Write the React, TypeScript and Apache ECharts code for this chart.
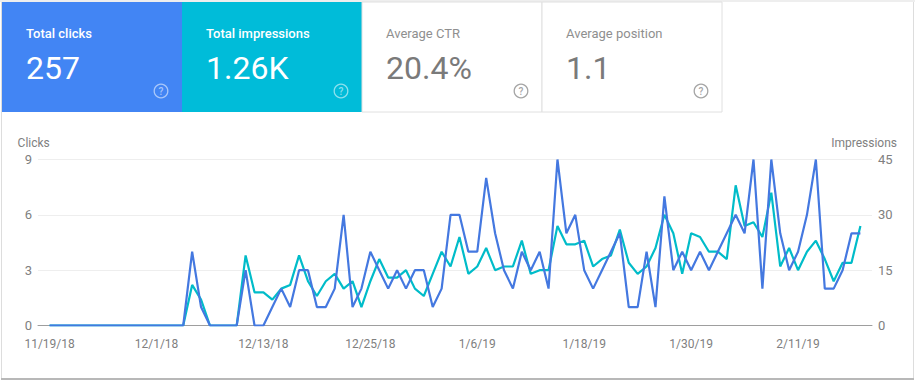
import React, { useEffect, useRef } from "react";
import * as echarts from "echarts";

const tickLabels = ["11/19/18", "12/1/18", "12/13/18", "12/25/18", "1/6/19", "1/18/19", "1/30/19", "2/11/19"];
const tickIndexes = [0, 12, 24, 36, 48, 60, 72, 84];
const clicks = [
  0, 0, 0, 0, 0, 0, 0, 0, 0, 0, 0, 0, 0, 0, 0, 0, 4, 1, 0, 0, 0, 0, 3, 0, 0, 1, 2, 1, 3, 3, 1, 1, 2, 6, 1, 2,
  4, 3, 2, 3, 2, 3, 3, 1, 2, 6, 6, 4, 4, 8, 5, 3, 2, 4, 3, 4, 2, 9, 5, 6, 3, 2, 3, 4, 5, 1, 1, 4, 1, 7, 3, 4,
  3, 4, 3, 4, 5, 6, 5, 9, 2, 9, 5, 3, 4, 6, 9, 2, 2, 3, 5, 5,
];
const impressions = [
  0, 0, 0, 0, 0, 0, 0, 0, 0, 0, 0, 0, 0, 0, 0, 0, 11, 7, 0, 0, 0, 0, 19, 9, 9, 7, 10, 11, 19, 12, 8, 12, 14, 10, 12, 5,
  12, 18, 13, 13, 15, 10, 8, 14, 20, 16, 24, 14, 16, 21, 15, 16, 16, 23, 14, 15, 15, 27, 22, 22, 23, 16, 18, 19, 26, 17, 14, 16,
  21, 30, 25, 14, 25, 24, 20, 20, 18, 38, 27, 28, 24, 36, 16, 21, 15, 20, 23, 18, 12, 17, 17, 27,
];
const cards = [
  { title: "Total clicks", value: "257", bg: "#4285f4", fg: "#ffffff", titleFg: "#ffffff", help: "rgba(255,255,255,0.55)" },
  { title: "Total impressions", value: "1.26K", bg: "#00bcd9", fg: "#ffffff", titleFg: "#ffffff", help: "rgba(255,255,255,0.55)" },
  { title: "Average CTR", value: "20.4%", bg: "#ffffff", fg: "#7a7a7a", titleFg: "#8f8f8f", help: "#a5a5a5" },
  { title: "Average position", value: "1.1", bg: "#ffffff", fg: "#7a7a7a", titleFg: "#8f8f8f", help: "#a5a5a5" },
];

const FONT = "Roboto";
const CARD_W = 180;

function cardGraphics() {
  const out: any[] = [
    { type: "rect", silent: true, z: -10, shape: { x: 0, y: 0, width: 915, height: 2 }, style: { fill: "#eeeeee" } },
    { type: "rect", silent: true, z: -10, shape: { x: 1, y: 2, width: 1, height: 376 }, style: { fill: "#dddddd" } },
    { type: "rect", silent: true, z: -10, shape: { x: 913, y: 2, width: 1, height: 376 }, style: { fill: "#dddddd" } },
    { type: "rect", silent: true, z: -10, shape: { x: 1, y: 378, width: 913, height: 2 }, style: { fill: "#b8b8b8" } },
  ];
  cards.forEach((c, i) => {
    const x = 2 + i * CARD_W;
    out.push({
      type: "rect",
      silent: true,
      z: 1,
      shape: { x, y: 2, width: CARD_W, height: 110 },
      style: c.bg === "#ffffff" ? { fill: c.bg, stroke: "#e0e0e0", lineWidth: 1 } : { fill: c.bg },
    });
    out.push({
      type: "text",
      silent: true,
      z: 2,
      x: x + 24,
      y: 33,
      style: { text: c.title, fill: c.titleFg, font: `${i < 2 ? 500 : 400} 13px ${FONT}`, textVerticalAlign: "middle" },
    });
    out.push({
      type: "text",
      silent: true,
      z: 2,
      x: x + 24,
      y: 68,
      style: { text: c.value, fill: c.fg, font: `400 32px ${FONT}`, textVerticalAlign: "middle" },
    });
    out.push({
      type: "circle",
      silent: true,
      z: 2,
      shape: { cx: x + 159, cy: 91, r: 6.8 },
      style: { fill: "transparent", stroke: c.help, lineWidth: 1.3 },
    });
    out.push({
      type: "text",
      silent: true,
      z: 2,
      x: x + 159,
      y: 91,
      style: { text: "?", fill: c.help, font: `500 10px ${FONT}`, textAlign: "center", textVerticalAlign: "middle" },
    });
  });
  return out;
}

export default function App() {
  const ref = useRef<HTMLDivElement>(null);
  useEffect(() => {
    document.body.style.margin = "0";
    const chart = echarts.init(ref.current!, null, { renderer: "svg" });
    const labelStyle = { color: "#808080", fontFamily: FONT, fontSize: 12 };
    chart.setOption({
      animation: false,
      backgroundColor: "#ffffff",
      textStyle: { fontFamily: FONT },
      graphic: { elements: cardGraphics() },
      grid: { left: 38, right: 43, top: 159.5, bottom: 55.5, outerBoundsMode: "none" },
      xAxis: {
        type: "value",
        min: -1.3,
        max: 92.3,
        splitLine: { show: false },
        axisTick: { show: false },
        axisLine: { show: true, onZero: false, lineStyle: { color: "#9e9e9e", width: 1 } },
        axisLabel: {
          ...labelStyle,
          margin: 12,
          customValues: tickIndexes,
          formatter: (v: number) => tickLabels[tickIndexes.indexOf(v)] ?? "",
        },
      },
      yAxis: [
        {
          type: "value",
          min: 0,
          max: 9,
          interval: 3,
          name: "Clicks",
          nameGap: 11,
          nameTextStyle: { ...labelStyle, align: "left", padding: [0, 0, 0, -32] },
          axisLine: { show: false },
          axisTick: { show: false },
          axisLabel: { ...labelStyle, fontSize: 13, margin: 6 },
          splitLine: { lineStyle: { color: "#eeeeee", width: 1 } },
        },
        {
          type: "value",
          min: 0,
          max: 45,
          interval: 15,
          name: "Impressions",
          nameGap: 11,
          nameTextStyle: { ...labelStyle, align: "right", padding: [0, -25, 0, 0] },
          axisLine: { show: false },
          axisTick: { show: false },
          axisLabel: { ...labelStyle, fontSize: 13, margin: 6 },
          splitLine: { show: false },
        },
      ],
      series: [
        {
          name: "Impressions",
          type: "line",
          yAxisIndex: 1,
          symbol: "none",
          lineStyle: { color: "#00bcc9", width: 2.2 },
          data: impressions.map((v, i) => [i, v]),
          z: 3,
        },
        {
          name: "Clicks",
          type: "line",
          yAxisIndex: 0,
          symbol: "none",
          lineStyle: { color: "#4478e0", width: 2.2 },
          data: clicks.map((v, i) => [i, v]),
          z: 4,
        },
      ],
    });
    return () => chart.dispose();
  }, []);
  return <div ref={ref} style={{ width: 915, height: 381 }} />;
}
